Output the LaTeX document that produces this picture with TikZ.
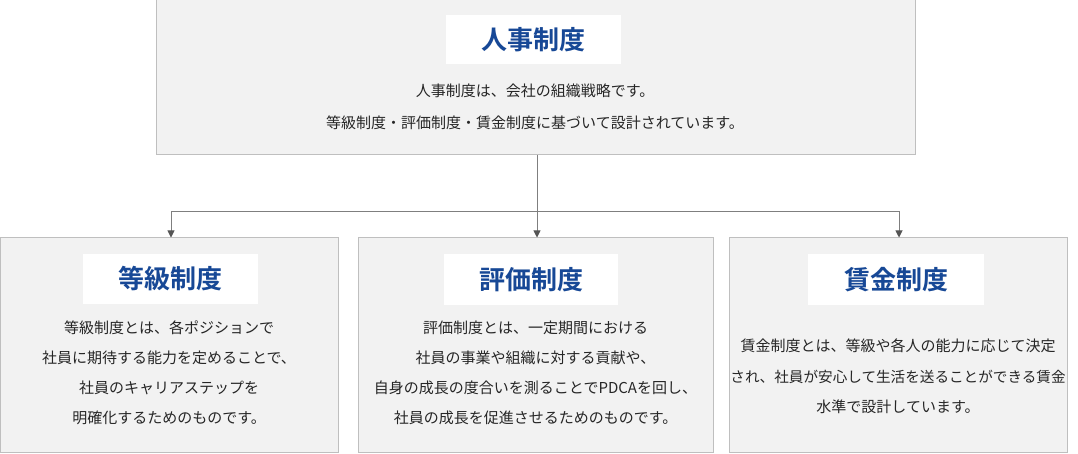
\documentclass[tikz,border=0pt]{standalone}
\usepackage{fontspec}
\usetikzlibrary{arrows.meta,calc}
\newfontfamily\jp{Noto Sans CJK JP}[BoldFont={* Bold}]
\definecolor{boxfill}{HTML}{F2F2F2}
\definecolor{boxline}{HTML}{BFBFBF}
\definecolor{titleblue}{HTML}{174896}
\definecolor{bodytext}{HTML}{262626}
\definecolor{conn}{HTML}{7F7F7F}
\definecolor{tipc}{HTML}{555555}
\tikzset{
  panel/.style={draw=boxline, fill=boxfill, line width=1pt, inner sep=0pt, anchor=center},
  titlebox/.style={fill=white, inner sep=0pt, anchor=center, text=titleblue,
    font=\jp\fontsize{26}{30}\selectfont\bfseries},
  bodyline/.style={inner sep=0pt, anchor=center, text=bodytext,
    font=\jp\fontsize{15}{18}\selectfont},
  narrowline/.style={bodyline, font=\jp\fontsize{14.6}{18}\selectfont},
  link/.style={draw=conn, line width=0.9pt},
  arrowlink/.style={link, -{Triangle[width=7pt,length=7pt,fill=tipc,color=tipc]}}
}
\begin{document}
\begin{tikzpicture}[x=1pt,y=-1pt]
\useasboundingbox (0,0) rectangle (1078,454);
% panels
\node[panel, minimum width=759pt, minimum height=155pt] (top) at (535.5,77.5) {};
\node[panel, minimum width=338pt, minimum height=214pt] (L) at (169,345) {};
\node[panel, minimum width=355pt, minimum height=214pt] (M) at (535.5,345) {};
\node[panel, minimum width=338pt, minimum height=214pt] (R) at (898,345) {};
% titles
\node[titlebox, minimum width=175pt, minimum height=49pt] (t0) at (533.5,39.5) {人事制度};
\node[titlebox, minimum width=175pt, minimum height=50pt] (t1) at (170.5,279) {等級制度};
\node[titlebox, minimum width=174pt, minimum height=51pt] (t2) at (531,279.5) {評価制度};
\node[titlebox, minimum width=176pt, minimum height=51pt] (t3) at (896,279.5) {賃金制度};
% top text
\node[bodyline] (a1) at (535,91) {人事制度は、会社の組織戦略です。};
\node[bodyline] (a2) at (535,123) {等級制度・評価制度・賃金制度に基づいて設計されています。};
% left text
\node[bodyline] (b1) at (169,328) {等級制度とは、各ポジションで};
\node[bodyline] (b2) at (169,358) {社員に期待する能力を定めることで、};
\node[bodyline] (b3) at (169,388) {社員のキャリアステップを};
\node[bodyline] (b4) at (169,418) {明確化するためのものです。};
% middle text
\node[bodyline] (c1) at (535.5,328) {評価制度とは、一定期間における};
\node[bodyline] (c2) at (535.5,358) {社員の事業や組織に対する貢献や、};
\node[bodyline] (c3) at (535.5,388) {自身の成長の度合いを測ることでPDCAを回し、};
\node[bodyline] (c4) at (535.5,418) {社員の成長を促進させるためのものです。};
% right text
\node[bodyline] (d1) at (898,346) {賃金制度とは、等級や各人の能力に応じて決定};
\node[narrowline] (d2) at (898,377) {され、社員が安心して生活を送ることができる賃金};
\node[bodyline] (d3) at (898,407) {水準で設計しています。};
% connectors
\coordinate (j) at ($(top.south)+(1.5,56)$);
\draw[arrowlink] ($(top.south)+(1.5,0)$) -- ($(M.north)+(1.5,0)$);
\draw[arrowlink] (j) -| ($(L.north)+(2,0)$);
\draw[arrowlink] (j) -| ($(R.north)+(1,0)$);
\end{tikzpicture}
\end{document}
